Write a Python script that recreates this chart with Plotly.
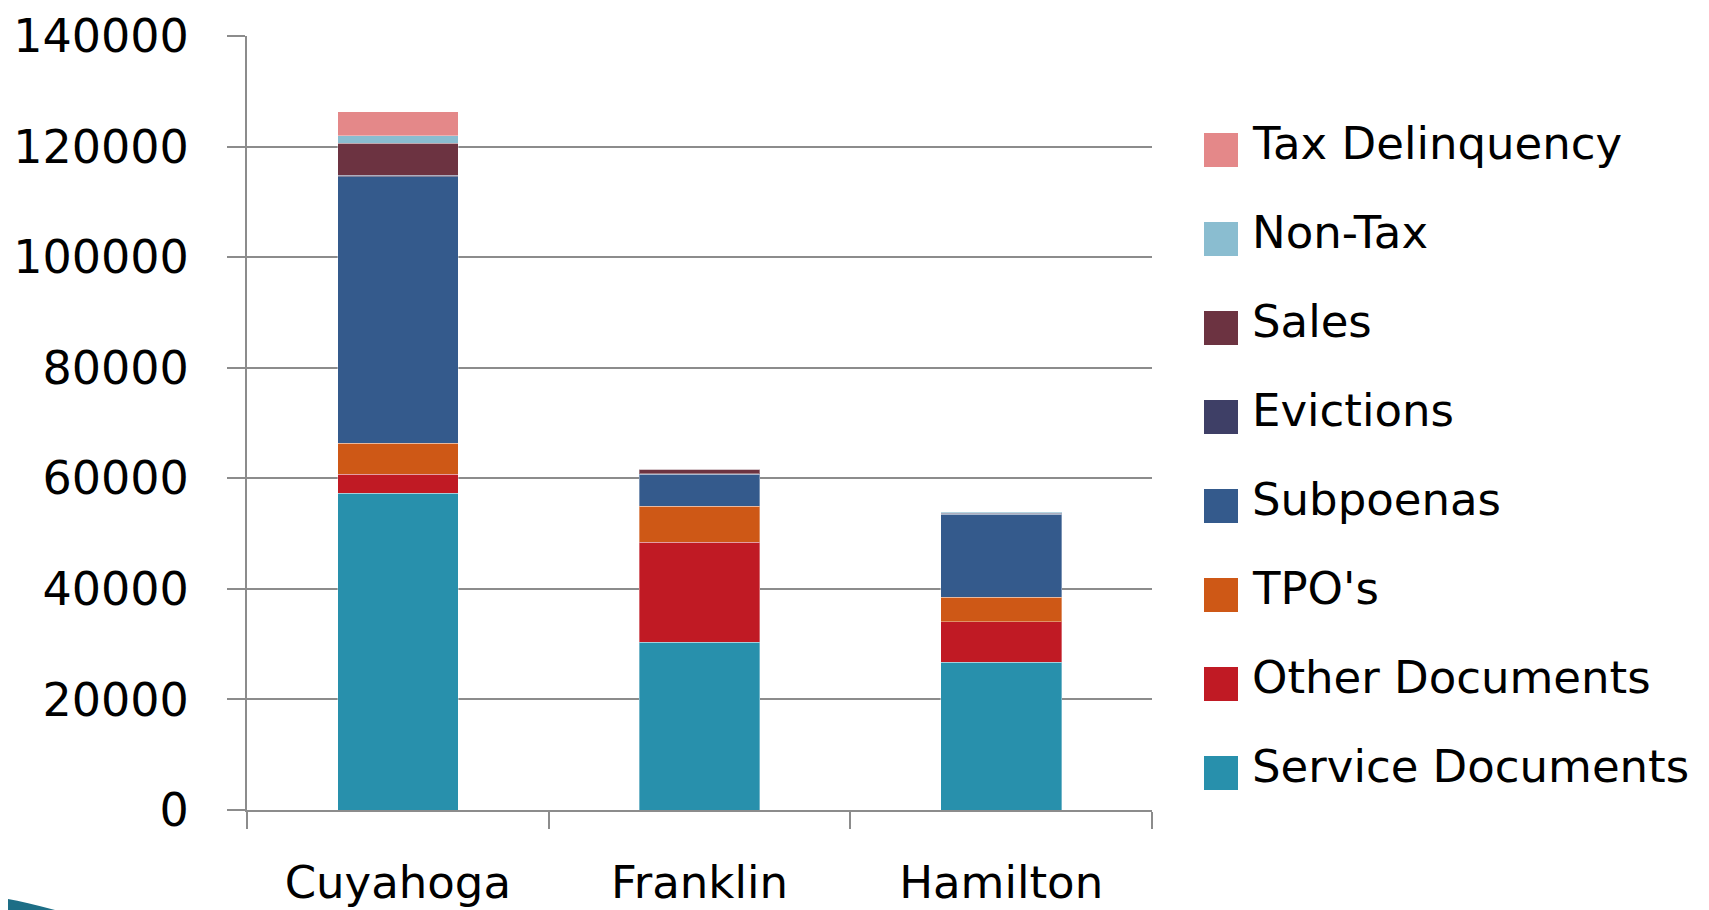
import plotly.graph_objects as go

counties = ["Cuyahoga", "Franklin", "Hamilton"]

service_documents = [57300, 30300, 26700]
other_documents = [3400, 18100, 7350]
tpos = [5600, 6500, 4450]
subpoenas = [48200, 5800, 15000]
evictions = [300, 100, 150]
sales = [5800, 800, 150]
non_tax = [1400, 0, 150]
tax_delinquency = [4300, 0, 0]

series_names = ["Service Documents", "Other Documents", "TPO's", "Subpoenas",
                "Evictions", "Sales", "Non-Tax", "Tax Delinquency"]
series_values = [service_documents, other_documents, tpos, subpoenas,
                 evictions, sales, non_tax, tax_delinquency]
series_colors = ["#2890AC", "#C01A24", "#CE5816", "#345A8C",
                 "#3E3F66", "#6C3341", "#8ABDD0", "#E48889"]

y_ticks = [0, 20000, 40000, 60000, 80000, 100000, 120000, 140000]

# page has an 8px body margin; figure coordinates are page coordinates minus 8
OFF = 8
W, H = 1709 - OFF, 910 - OFF
L, R, T, B = 247 - OFF, 1152 - OFF, 36 - OFF, 810 - OFF
FONT = "DejaVu Sans"


def px_x(px):
    return (px - OFF - L) / (R - L)


def px_y(py):
    return (B - (py - OFF)) / (B - T)


fig = go.Figure()
for name, vals, col in zip(series_names, series_values, series_colors):
    fig.add_trace(go.Bar(
        x=counties, y=vals, name=name, marker_color=col,
        marker_line=dict(width=1, color="rgba(255,255,255,0.35)"),
        showlegend=False,
    ))

shapes = []
annotations = []
# custom legend (reverse order, top item = last series)
first_center = 150
step = 89
for i, (name, col) in enumerate(zip(series_names[::-1], series_colors[::-1])):
    cy = first_center + i * step
    shapes.append(dict(type="rect", xref="paper", yref="paper",
                       x0=px_x(1204), x1=px_x(1238),
                       y0=px_y(cy + 17), y1=px_y(cy - 17),
                       fillcolor=col, line=dict(width=0)))
    annotations.append(dict(xref="paper", yref="paper", x=px_x(1250), y=px_y(cy - 7),
                            xanchor="left", yanchor="middle", showarrow=False,
                            text=name, font=dict(family=FONT, size=45, color="#000000")))

# decorative swoosh in bottom-left corner
shapes.append(dict(type="path", xref="paper", yref="paper",
                   path="M {0},{1} Q {2},{3} {4},{5} L {0},{5} Z".format(
                       px_x(OFF), px_y(899), px_x(25), px_y(902), px_x(55), px_y(910)),
                   fillcolor="#1D6E86", line=dict(width=0)))

fig.update_layout(
    width=W, height=H,
    margin=dict(l=L, r=W - R, t=T, b=H - B, pad=0, autoexpand=False),
    barmode="stack", bargap=0.6,
    plot_bgcolor="white", paper_bgcolor="white",
    font=dict(family=FONT, size=45, color="#000000"),
    shapes=shapes, annotations=annotations,
    showlegend=False,
)
fig.update_xaxes(
    automargin=False,
    showgrid=False, showline=True, linecolor="#8C8C8C", linewidth=2,
    ticks="outside", ticklen=17, tickwidth=2, tickcolor="#8C8C8C",
    tickson="boundaries", ticklabelstandoff=32,
    tickfont=dict(family=FONT, size=45, color="#000000"),
)
fig.update_yaxes(
    automargin=False,
    range=[0, 140000], tickvals=y_ticks, ticktext=[str(v) for v in y_ticks],
    showgrid=True, gridcolor="#8C8C8C", gridwidth=2,
    showline=True, linecolor="#8C8C8C", linewidth=2,
    ticks="outside", ticklen=18, tickwidth=2, tickcolor="#8C8C8C",
    ticklabelstandoff=29, zeroline=False,
    tickfont=dict(family=FONT, size=46, color="#000000"),
)

fig.write_html("out.html")
